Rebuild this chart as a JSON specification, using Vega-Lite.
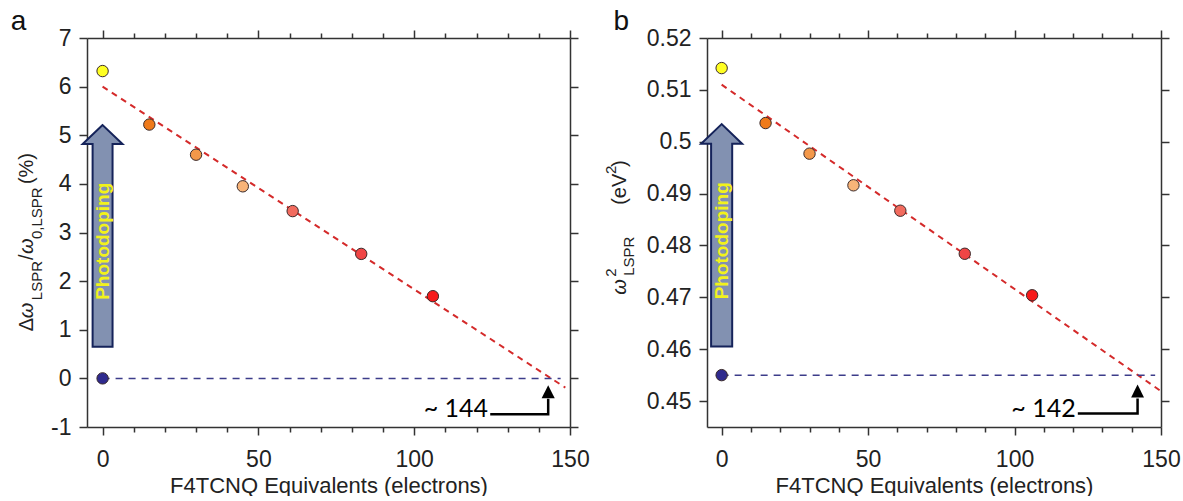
{
  "$schema": "https://vega.github.io/schema/vega-lite/v6.json",
  "padding": {"left": 10, "top": 7, "right": 5, "bottom": 0},
  "spacing": 137,
  "bounds": "flush",
  "config": {
    "view": {"stroke": null},
    "font": "Liberation Sans",
    "axis": {
      "labelFont": "Liberation Sans", "labelFontSize": 23, "labelColor": "#222",
      "tickColor": "#333", "domainColor": "#333", "tickWidth": 1.5, "domainWidth": 1.5,
      "grid": false, "titleFont": "Liberation Sans", "titleFontSize": 22,
      "titleFontWeight": "normal", "titleColor": "#222", "labelOverlap": false, "labelFlush": false
    }
  },
  "datasets": {
    "pts_a": [
      {"eq": 0, "v": 6.32, "sample": "Photodoped"},
      {"eq": 15, "v": 5.22, "sample": "15 e"},
      {"eq": 30, "v": 4.6, "sample": "30 e"},
      {"eq": 45, "v": 3.95, "sample": "45 e"},
      {"eq": 61, "v": 3.44, "sample": "61 e"},
      {"eq": 83, "v": 2.56, "sample": "83 e"},
      {"eq": 106, "v": 1.69, "sample": "106 e"},
      {"eq": 0, "v": 0, "sample": "As-synthesized"}
    ],
    "fit_a": [{"eq": 0, "v": 6.0}, {"eq": 148.5, "v": -0.19}],
    "base_a": [{"eq": 0, "v": 0}, {"eq": 147, "v": 0}],
    "arrow_a": [
      {"v": 0.65, "lo": -3.2, "hi": 3.2},
      {"v": 4.82, "lo": -3.2, "hi": 3.2},
      {"v": 4.821, "lo": -6.4, "hi": 6.4},
      {"v": 5.21, "lo": 0, "hi": 0}
    ],
    "photo_a": [{"eq": 0, "v": 2.82, "t": "Photodoping"}],
    "ann_line_a": [{"eq": 124.4, "v": -0.74, "o": 1}, {"eq": 143, "v": -0.74, "o": 2}, {"eq": 143, "v": -0.42, "o": 3}],
    "ann_head_a": [{"eq": 140.9, "v": -0.41, "b": -0.41}, {"eq": 143, "v": -0.14, "b": -0.41}, {"eq": 145.1, "v": -0.41, "b": -0.41}],
    "ann_text_a": [{"eq": 123.7, "v": -0.8, "t": "~ 144"}],
    "title_a": [
      {"eq": -22.4, "v": 0.971, "t": "Δ", "part": "main"},
      {"eq": -22.4, "v": 1.239, "t": "ω", "part": "ital"},
      {"eq": -22.4, "v": 1.609, "t": "LSPR", "part": "sub"},
      {"eq": -22.4, "v": 2.432, "t": "/", "part": "main"},
      {"eq": -22.4, "v": 2.556, "t": "ω", "part": "ital"},
      {"eq": -22.4, "v": 2.864, "t": "0,LSPR", "part": "sub"},
      {"eq": -22.4, "v": 3.996, "t": "(%)", "part": "main"}
    ],
    "label_a": [{"eq": -29.5, "v": 7.165, "t": "a"}],
    "pts_b": [
      {"eq": 0, "v": 0.5142, "sample": "Photodoped"},
      {"eq": 15, "v": 0.5036, "sample": "15 e"},
      {"eq": 30, "v": 0.4977, "sample": "30 e"},
      {"eq": 45, "v": 0.4916, "sample": "45 e"},
      {"eq": 61, "v": 0.4867, "sample": "61 e"},
      {"eq": 83, "v": 0.4784, "sample": "83 e"},
      {"eq": 106, "v": 0.4704, "sample": "106 e"},
      {"eq": 0, "v": 0.455, "sample": "As-synthesized"}
    ],
    "fit_b": [{"eq": 0, "v": 0.511}, {"eq": 150, "v": 0.4519}],
    "base_b": [{"eq": 0, "v": 0.455}, {"eq": 148, "v": 0.455}],
    "arrow_b": [
      {"v": 0.4605, "lo": -3.6, "hi": 3.6},
      {"v": 0.4996, "lo": -3.6, "hi": 3.6},
      {"v": 0.49961, "lo": -7.0, "hi": 7.0},
      {"v": 0.5034, "lo": 0, "hi": 0}
    ],
    "photo_b": [{"eq": 0, "v": 0.4809, "t": "Photodoping"}],
    "ann_line_b": [{"eq": 121.6, "v": 0.4476, "o": 1}, {"eq": 142, "v": 0.4476, "o": 2}, {"eq": 142, "v": 0.4505, "o": 3}],
    "ann_head_b": [{"eq": 139.8, "v": 0.4507, "b": 0.4507}, {"eq": 142, "v": 0.4532, "b": 0.4507}, {"eq": 144.2, "v": 0.4507, "b": 0.4507}],
    "ann_text_b": [{"eq": 120.9, "v": 0.447, "t": "~ 142"}],
    "title_b": [
      {"eq": -32.5, "v": 0.47049, "t": "ω", "part": "ital"},
      {"eq": -32.5, "v": 0.47396, "t": "2", "part": "sup"},
      {"eq": -32.5, "v": 0.47415, "t": "LSPR", "part": "sub"},
      {"eq": -32.5, "v": 0.48783, "t": "(eV", "part": "main"},
      {"eq": -32.5, "v": 0.4938, "t": "2", "part": "sup"},
      {"eq": -32.5, "v": 0.49515, "t": ")", "part": "main"}
    ],
    "label_b": [{"eq": -36.9, "v": 0.52154, "t": "b"}]
  },
  "hconcat": [
    {
      "width": 483, "height": 389,
      "resolve": {"axis": {"x": "independent", "y": "independent"}},
      "layer": [
        {
          "data": {"name": "fit_a"},
          "mark": {"type": "line", "color": "#d42a2a", "strokeWidth": 2, "strokeDash": [6, 5]},
          "encoding": {
            "x": {"field": "eq", "type": "quantitative", "scale": {"domain": [-5, 150], "nice": false, "zero": false},
              "axis": {"orient": "bottom", "values": [0,10,20,30,40,50,60,70,80,90,100,110,120,130,140,150],
                "tickSize": {"condition": {"test": "datum.value % 50 === 0", "value": 8}, "value": 5},
                "labelExpr": "datum.value % 50 === 0 ? '' + datum.value : ''", "labelPadding": 13,
                "title": "F4TCNQ Equivalents (electrons)", "titlePadding": 4}},
            "y": {"field": "v", "type": "quantitative", "scale": {"domain": [-1, 7], "nice": false, "zero": false},
              "axis": {"orient": "left", "values": [-1,0,1,2,3,4,5,6,7], "tickSize": 8, "labelPadding": 8,
                "labelExpr": "'' + datum.value", "title": null}}
          }
        },
        {
          "data": {"name": "base_a"},
          "mark": {"type": "line", "color": "#3c3c8a", "strokeWidth": 1.5, "strokeDash": [7, 6]},
          "encoding": {
            "x": {"field": "eq", "type": "quantitative", "scale": {"domain": [-5, 150], "nice": false, "zero": false},
              "axis": {"orient": "top", "values": [0,10,20,30,40,50,60,70,80,90,100,110,120,130,140,150],
                "tickSize": {"condition": {"test": "datum.value % 50 === 0", "value": 8}, "value": 5},
                "labels": false, "title": null}},
            "y": {"field": "v", "type": "quantitative", "scale": {"domain": [-1, 7], "nice": false, "zero": false},
              "axis": {"orient": "right", "values": [-1,0,1,2,3,4,5,6,7], "tickSize": 8, "labels": false, "title": null}}
          }
        },
        {
          "data": {"name": "arrow_a"},
          "mark": {"type": "area", "orient": "horizontal", "fill": "#8291b1", "stroke": "#15235a", "strokeWidth": 2, "strokeJoin": "miter", "opacity": 1},
          "encoding": {
            "y": {"field": "v", "type": "quantitative", "scale": {"domain": [-1, 7], "nice": false, "zero": false}, "axis": null},
            "x": {"field": "lo", "type": "quantitative", "scale": {"domain": [-5, 150], "nice": false, "zero": false}, "axis": null},
            "x2": {"field": "hi"}
          }
        },
        {
          "data": {"name": "photo_a"},
          "mark": {"type": "text", "angle": 270, "font": "Liberation Sans", "fontWeight": "bold", "fontSize": 19, "color": "#f2f21a", "align": "center", "baseline": "middle"},
          "encoding": {
            "x": {"field": "eq", "type": "quantitative", "scale": {"domain": [-5, 150], "nice": false, "zero": false}, "axis": null},
            "y": {"field": "v", "type": "quantitative", "scale": {"domain": [-1, 7], "nice": false, "zero": false}, "axis": null},
            "text": {"field": "t"}
          }
        },
        {
          "data": {"name": "ann_line_a"},
          "mark": {"type": "line", "color": "#000", "strokeWidth": 2.5, "strokeCap": "butt", "strokeJoin": "miter"},
          "encoding": {
            "x": {"field": "eq", "type": "quantitative", "scale": {"domain": [-5, 150], "nice": false, "zero": false}, "axis": null},
            "y": {"field": "v", "type": "quantitative", "scale": {"domain": [-1, 7], "nice": false, "zero": false}, "axis": null},
            "order": {"field": "o"}
          }
        },
        {
          "data": {"name": "ann_head_a"},
          "mark": {"type": "area", "color": "#000", "opacity": 1},
          "encoding": {
            "x": {"field": "eq", "type": "quantitative", "scale": {"domain": [-5, 150], "nice": false, "zero": false}, "axis": null},
            "y": {"field": "v", "type": "quantitative", "scale": {"domain": [-1, 7], "nice": false, "zero": false}, "axis": null},
            "y2": {"field": "b"}
          }
        },
        {
          "data": {"name": "ann_text_a"},
          "mark": {"type": "text", "font": "Lato", "fontSize": 25, "align": "right", "baseline": "alphabetic", "color": "#000"},
          "encoding": {
            "x": {"field": "eq", "type": "quantitative", "scale": {"domain": [-5, 150], "nice": false, "zero": false}, "axis": null},
            "y": {"field": "v", "type": "quantitative", "scale": {"domain": [-1, 7], "nice": false, "zero": false}, "axis": null},
            "text": {"field": "t"}
          }
        },
        {
          "data": {"name": "pts_a"},
          "mark": {"type": "point", "filled": true, "size": 130, "stroke": "#3a2a2a", "strokeWidth": 1, "opacity": 1},
          "encoding": {
            "x": {"field": "eq", "type": "quantitative", "scale": {"domain": [-5, 150], "nice": false, "zero": false}, "axis": null},
            "y": {"field": "v", "type": "quantitative", "scale": {"domain": [-1, 7], "nice": false, "zero": false}, "axis": null},
            "color": {"field": "sample", "type": "nominal", "legend": null,
              "scale": {"domain": ["Photodoped","15 e","30 e","45 e","61 e","83 e","106 e","As-synthesized"],
                "range": ["#ffff22","#ef7a1a","#f3984a","#f8b478","#f26b5e","#f04545","#f71a1a","#2f2a8e"]}}
          }
        },
        {
          "data": {"name": "title_a"},
          "transform": [{"filter": "datum.part === 'main'"}],
          "mark": {"type": "text", "angle": 270, "align": "left", "baseline": "alphabetic", "fontSize": 20, "font": "Liberation Sans", "color": "#222"},
          "encoding": {
            "x": {"field": "eq", "type": "quantitative", "scale": {"domain": [-5, 150], "nice": false, "zero": false}, "axis": null},
            "y": {"field": "v", "type": "quantitative", "scale": {"domain": [-1, 7], "nice": false, "zero": false}, "axis": null},
            "text": {"field": "t"}
          }
        },
        {
          "data": {"name": "title_a"},
          "transform": [{"filter": "datum.part === 'ital'"}],
          "mark": {"type": "text", "angle": 270, "align": "left", "baseline": "alphabetic", "fontSize": 20, "fontStyle": "italic", "font": "Liberation Sans", "color": "#222"},
          "encoding": {
            "x": {"field": "eq", "type": "quantitative", "scale": {"domain": [-5, 150], "nice": false, "zero": false}, "axis": null},
            "y": {"field": "v", "type": "quantitative", "scale": {"domain": [-1, 7], "nice": false, "zero": false}, "axis": null},
            "text": {"field": "t"}
          }
        },
        {
          "data": {"name": "title_a"},
          "transform": [{"filter": "datum.part === 'sub'"}],
          "mark": {"type": "text", "angle": 270, "align": "left", "baseline": "alphabetic", "fontSize": 15, "dy": 9, "font": "Liberation Sans", "color": "#222"},
          "encoding": {
            "x": {"field": "eq", "type": "quantitative", "scale": {"domain": [-5, 150], "nice": false, "zero": false}, "axis": null},
            "y": {"field": "v", "type": "quantitative", "scale": {"domain": [-1, 7], "nice": false, "zero": false}, "axis": null},
            "text": {"field": "t"}
          }
        },
        {
          "data": {"name": "label_a"},
          "mark": {"type": "text", "align": "left", "baseline": "alphabetic", "fontSize": 28, "font": "Liberation Sans", "color": "#111"},
          "encoding": {
            "x": {"field": "eq", "type": "quantitative", "scale": {"domain": [-5, 150], "nice": false, "zero": false}, "axis": null},
            "y": {"field": "v", "type": "quantitative", "scale": {"domain": [-1, 7], "nice": false, "zero": false}, "axis": null},
            "text": {"field": "t"}
          }
        }
      ]
    },
    {
      "width": 454, "height": 389,
      "resolve": {"axis": {"x": "independent", "y": "independent"}},
      "layer": [
        {
          "data": {"name": "fit_b"},
          "mark": {"type": "line", "color": "#d42a2a", "strokeWidth": 2, "strokeDash": [6, 5]},
          "encoding": {
            "x": {"field": "eq", "type": "quantitative", "scale": {"domain": [-5, 150], "nice": false, "zero": false},
              "axis": {"orient": "bottom", "values": [0,10,20,30,40,50,60,70,80,90,100,110,120,130,140,150],
                "tickSize": {"condition": {"test": "datum.value % 50 === 0", "value": 8}, "value": 5},
                "labelExpr": "datum.value % 50 === 0 ? '' + datum.value : ''", "labelPadding": 13,
                "title": "F4TCNQ Equivalents (electrons)", "titlePadding": 4}},
            "y": {"field": "v", "type": "quantitative", "scale": {"domain": [0.445, 0.52], "nice": false, "zero": false},
              "axis": {"orient": "left", "values": [0.45,0.46,0.47,0.48,0.49,0.5,0.51,0.52], "tickSize": 8, "labelPadding": 8,
                "labelExpr": "'' + datum.value", "title": null}}
          }
        },
        {
          "data": {"name": "base_b"},
          "mark": {"type": "line", "color": "#3c3c8a", "strokeWidth": 1.5, "strokeDash": [7, 6]},
          "encoding": {
            "x": {"field": "eq", "type": "quantitative", "scale": {"domain": [-5, 150], "nice": false, "zero": false},
              "axis": {"orient": "top", "values": [0,10,20,30,40,50,60,70,80,90,100,110,120,130,140,150],
                "tickSize": {"condition": {"test": "datum.value % 50 === 0", "value": 8}, "value": 5},
                "labels": false, "title": null}},
            "y": {"field": "v", "type": "quantitative", "scale": {"domain": [0.445, 0.52], "nice": false, "zero": false},
              "axis": {"orient": "right", "values": [0.45,0.46,0.47,0.48,0.49,0.5,0.51,0.52], "tickSize": 8, "labels": false, "title": null}}
          }
        },
        {
          "data": {"name": "arrow_b"},
          "mark": {"type": "area", "orient": "horizontal", "fill": "#8291b1", "stroke": "#15235a", "strokeWidth": 2, "strokeJoin": "miter", "opacity": 1},
          "encoding": {
            "y": {"field": "v", "type": "quantitative", "scale": {"domain": [0.445, 0.52], "nice": false, "zero": false}, "axis": null},
            "x": {"field": "lo", "type": "quantitative", "scale": {"domain": [-5, 150], "nice": false, "zero": false}, "axis": null},
            "x2": {"field": "hi"}
          }
        },
        {
          "data": {"name": "photo_b"},
          "mark": {"type": "text", "angle": 270, "font": "Liberation Sans", "fontWeight": "bold", "fontSize": 19, "color": "#f2f21a", "align": "center", "baseline": "middle"},
          "encoding": {
            "x": {"field": "eq", "type": "quantitative", "scale": {"domain": [-5, 150], "nice": false, "zero": false}, "axis": null},
            "y": {"field": "v", "type": "quantitative", "scale": {"domain": [0.445, 0.52], "nice": false, "zero": false}, "axis": null},
            "text": {"field": "t"}
          }
        },
        {
          "data": {"name": "ann_line_b"},
          "mark": {"type": "line", "color": "#000", "strokeWidth": 2.5, "strokeCap": "butt", "strokeJoin": "miter"},
          "encoding": {
            "x": {"field": "eq", "type": "quantitative", "scale": {"domain": [-5, 150], "nice": false, "zero": false}, "axis": null},
            "y": {"field": "v", "type": "quantitative", "scale": {"domain": [0.445, 0.52], "nice": false, "zero": false}, "axis": null},
            "order": {"field": "o"}
          }
        },
        {
          "data": {"name": "ann_head_b"},
          "mark": {"type": "area", "color": "#000", "opacity": 1},
          "encoding": {
            "x": {"field": "eq", "type": "quantitative", "scale": {"domain": [-5, 150], "nice": false, "zero": false}, "axis": null},
            "y": {"field": "v", "type": "quantitative", "scale": {"domain": [0.445, 0.52], "nice": false, "zero": false}, "axis": null},
            "y2": {"field": "b"}
          }
        },
        {
          "data": {"name": "ann_text_b"},
          "mark": {"type": "text", "font": "Lato", "fontSize": 25, "align": "right", "baseline": "alphabetic", "color": "#000"},
          "encoding": {
            "x": {"field": "eq", "type": "quantitative", "scale": {"domain": [-5, 150], "nice": false, "zero": false}, "axis": null},
            "y": {"field": "v", "type": "quantitative", "scale": {"domain": [0.445, 0.52], "nice": false, "zero": false}, "axis": null},
            "text": {"field": "t"}
          }
        },
        {
          "data": {"name": "pts_b"},
          "mark": {"type": "point", "filled": true, "size": 130, "stroke": "#3a2a2a", "strokeWidth": 1, "opacity": 1},
          "encoding": {
            "x": {"field": "eq", "type": "quantitative", "scale": {"domain": [-5, 150], "nice": false, "zero": false}, "axis": null},
            "y": {"field": "v", "type": "quantitative", "scale": {"domain": [0.445, 0.52], "nice": false, "zero": false}, "axis": null},
            "color": {"field": "sample", "type": "nominal", "legend": null,
              "scale": {"domain": ["Photodoped","15 e","30 e","45 e","61 e","83 e","106 e","As-synthesized"],
                "range": ["#ffff22","#ef7a1a","#f3984a","#f8b478","#f26b5e","#f04545","#f71a1a","#2f2a8e"]}}
          }
        },
        {
          "data": {"name": "title_b"},
          "transform": [{"filter": "datum.part === 'main'"}],
          "mark": {"type": "text", "angle": 270, "align": "left", "baseline": "alphabetic", "fontSize": 20, "font": "Liberation Sans", "color": "#222"},
          "encoding": {
            "x": {"field": "eq", "type": "quantitative", "scale": {"domain": [-5, 150], "nice": false, "zero": false}, "axis": null},
            "y": {"field": "v", "type": "quantitative", "scale": {"domain": [0.445, 0.52], "nice": false, "zero": false}, "axis": null},
            "text": {"field": "t"}
          }
        },
        {
          "data": {"name": "title_b"},
          "transform": [{"filter": "datum.part === 'ital'"}],
          "mark": {"type": "text", "angle": 270, "align": "left", "baseline": "alphabetic", "fontSize": 20, "fontStyle": "italic", "font": "Liberation Sans", "color": "#222"},
          "encoding": {
            "x": {"field": "eq", "type": "quantitative", "scale": {"domain": [-5, 150], "nice": false, "zero": false}, "axis": null},
            "y": {"field": "v", "type": "quantitative", "scale": {"domain": [0.445, 0.52], "nice": false, "zero": false}, "axis": null},
            "text": {"field": "t"}
          }
        },
        {
          "data": {"name": "title_b"},
          "transform": [{"filter": "datum.part === 'sub'"}],
          "mark": {"type": "text", "angle": 270, "align": "left", "baseline": "alphabetic", "fontSize": 15, "dy": 8, "font": "Liberation Sans", "color": "#222"},
          "encoding": {
            "x": {"field": "eq", "type": "quantitative", "scale": {"domain": [-5, 150], "nice": false, "zero": false}, "axis": null},
            "y": {"field": "v", "type": "quantitative", "scale": {"domain": [0.445, 0.52], "nice": false, "zero": false}, "axis": null},
            "text": {"field": "t"}
          }
        },
        {
          "data": {"name": "title_b"},
          "transform": [{"filter": "datum.part === 'sup'"}],
          "mark": {"type": "text", "angle": 270, "align": "left", "baseline": "alphabetic", "fontSize": 15, "dy": -10, "font": "Liberation Sans", "color": "#222"},
          "encoding": {
            "x": {"field": "eq", "type": "quantitative", "scale": {"domain": [-5, 150], "nice": false, "zero": false}, "axis": null},
            "y": {"field": "v", "type": "quantitative", "scale": {"domain": [0.445, 0.52], "nice": false, "zero": false}, "axis": null},
            "text": {"field": "t"}
          }
        },
        {
          "data": {"name": "label_b"},
          "mark": {"type": "text", "align": "left", "baseline": "alphabetic", "fontSize": 28, "font": "Liberation Sans", "color": "#111"},
          "encoding": {
            "x": {"field": "eq", "type": "quantitative", "scale": {"domain": [-5, 150], "nice": false, "zero": false}, "axis": null},
            "y": {"field": "v", "type": "quantitative", "scale": {"domain": [0.445, 0.52], "nice": false, "zero": false}, "axis": null},
            "text": {"field": "t"}
          }
        }
      ]
    }
  ]
}
